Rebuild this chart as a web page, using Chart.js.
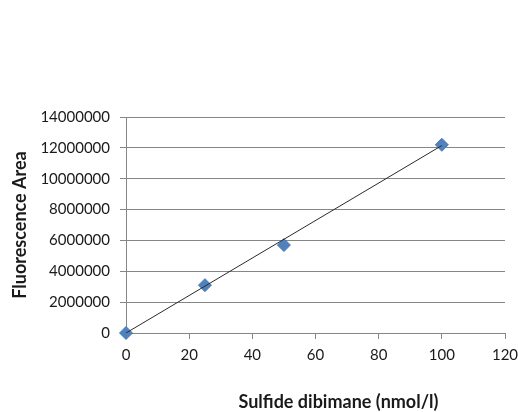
<!DOCTYPE html>
<html><head><meta charset="utf-8">
<script src="https://cdn.jsdelivr.net/npm/chart.js@4/dist/chart.umd.min.js"></script>
<style>html,body{margin:0;padding:0;background:#fff}#wrap{width:518px;height:412px}</style>
</head><body><div id="wrap"><canvas id="c" width="518" height="412"></canvas></div>
<script>
const xValues = [0, 25, 50, 100];
const yValues = [0, 3100000, 5700000, 12200000];
const trendX = [0, 100];
const trendY = [0, 12150000];
const xTicks = [0, 20, 40, 60, 80, 100, 120];
const yTicks = [0, 2000000, 4000000, 6000000, 8000000, 10000000, 12000000, 14000000];
const xTitle = 'Sulfide dibimane (nmol/l)';
const yTitle = 'Fluorescence Area';

const FONT = 'Lato, "Open Sans", sans-serif';

// x-axis title drawn offset to the right of the plot centre, as in the reference
const xTitlePlugin = {
  id: 'xTitleOffset',
  afterDraw(chart) {
    const { ctx, chartArea } = chart;
    ctx.save();
    ctx.font = 'bold 18px ' + FONT;
    ctx.fillStyle = '#1a1a1a';
    ctx.textAlign = 'center';
    ctx.textBaseline = 'middle';
    ctx.fillText(xTitle, (chartArea.left + chartArea.right) / 2 + 23, 402);
    ctx.restore();
  }
};

new Chart(document.getElementById('c'), {
  type: 'scatter',
  data: {
    datasets: [
      { data: trendX.map((x,i)=>({x, y: trendY[i]})), showLine: true, borderColor: '#2b2b2b', borderWidth: 1, pointRadius: 0, order: 0 },
      { data: xValues.map((x,i)=>({x, y: yValues[i]})), pointStyle: 'rectRot', pointRadius: 6.5, backgroundColor: '#4F81BD', borderColor: '#4A7AB5', borderWidth: 1, order: 1, clip: false }
    ]
  },
  plugins: [xTitlePlugin],
  options: {
    responsive: false, animation: false,
    layout: { padding: { left: 8, right: 13, top: 117, bottom: 0 } },
    plugins: { legend: { display: false }, tooltip: { enabled: false } },
    scales: {
      x: {
        type: 'linear', min: 0, max: 120,
        afterBuildTicks: s => { s.ticks = xTicks.map(v => ({ value: v })); },
        afterFit: s => { s.height = 79; s.paddingLeft = 0; s.paddingRight = 0; },
        ticks: { color: '#1a1a1a', font: { family: FONT, size: 15 }, padding: 7, maxRotation: 0 },
        grid: { display: true, drawOnChartArea: false, drawTicks: true, tickLength: 6, color: '#868686' },
        border: { color: '#868686' },
        title: { display: false }
      },
      y: {
        type: 'linear', min: 0, max: 14000000,
        afterBuildTicks: s => { s.ticks = yTicks.map(v => ({ value: v })); },
        afterFit: s => { s.width = 118; s.paddingTop = 0; s.paddingBottom = 0; },
        ticks: { color: '#1a1a1a', font: { family: FONT, size: 15 }, padding: 10, callback: v => String(v) },
        grid: { color: '#868686', tickLength: 6 },
        border: { color: '#868686' },
        title: { display: true, text: yTitle, color: '#1a1a1a', font: { family: FONT, size: 18, weight: 'bold' }, padding: { top: 1, bottom: 0 } }
      }
    }
  }
});
</script></body></html>
